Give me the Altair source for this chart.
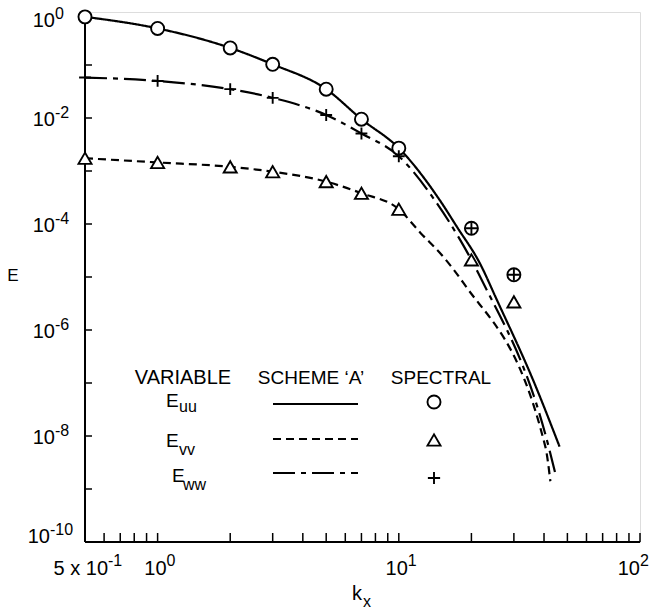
import altair as alt
import pandas as pd

# ---- spectral reference values (symbols) ----
k_spec = [0.5, 1, 2, 3, 5, 7, 10, 20, 30]
e_uu_spec = [0.81, 0.49, 0.21, 0.103, 0.035, 0.0095, 0.0027, 8.3e-5, 1.1e-5]
e_vv_spec = [0.00174, 0.00145, 0.0012, 0.00097, 0.00063, 0.00038, 0.00019, 2.1e-5, 3.4e-6]
e_ww_spec = [0.058, 0.050, 0.035, 0.024, 0.0114, 0.0051, 0.0019, 8.3e-5, 1.1e-5]

# ---- scheme 'A' curves ----
k_uu = [0.5, 1, 2, 3, 5, 7, 10, 14.8, 17.4, 21.7, 25.5, 36, 46.4]
e_uu = [0.81, 0.49, 0.21, 0.103, 0.035, 0.0095, 0.0027, 2.8e-4, 8.9e-5, 1.8e-5,
        3.7e-6, 1.15e-7, 6.3e-9]
k_ww = [0.5, 1, 2, 3, 5, 7, 10, 14.1, 22.1, 41.8, 44.5]
e_ww = [0.058, 0.050, 0.035, 0.024, 0.0114, 0.0051, 0.0019, 2.8e-4, 8.7e-6, 6.3e-9, 2.0e-9]
k_vv = [0.5, 1, 2, 3, 5, 7, 10, 12.3, 15.3, 18.5, 40.5, 42.5]
e_vv = [0.00174, 0.00145, 0.0012, 0.00097, 0.00063, 0.00038, 0.00019, 6.8e-5, 2.4e-5,
        7.8e-6, 6.3e-9, 1.4e-9]

# ---- axis ticks and labels ----
x_range = [0.5, 100]
y_range = [1e-10, 1]
x_ticks = [0.6, 0.7, 0.8, 0.9, 1, 2, 3, 4, 5, 6, 7, 8, 9,
           10, 20, 30, 40, 50, 60, 70, 80, 90, 100]
y_ticks = [1e-1, 1e-2, 1e-3, 1e-4, 1e-5, 1e-6, 1e-7, 1e-8, 1e-9]
x_label_vals = [0.5, 1, 10, 100]
x_label_base = ["5 x 10", "10", "10", "10"]
x_label_exp = ["-1", "0", "1", "2"]
y_label_vals = [1, 1e-2, 1e-4, 1e-6, 1e-8, 1e-10]
y_label_exp = ["0", "-2", "-4", "-6", "-8", "-10"]

W, H = 555, 530
FONT = "Liberation Sans"
INK = "black"

xs = alt.Scale(type="log", domain=x_range, nice=False)
ys = alt.Scale(type="log", domain=y_range, nice=False)
X = lambda f: alt.X(f, type="quantitative", scale=xs, axis=None)
Y = lambda f: alt.Y(f, type="quantitative", scale=ys, axis=None)
ONE = pd.DataFrame({"t": [0]})


def curve(k, e, dash):
    df = pd.DataFrame({"k": k, "e": e})
    return alt.Chart(df).mark_line(
        color=INK, strokeWidth=2.2, interpolate="monotone", strokeDash=dash, clip=False
    ).encode(x=X("k"), y=Y("e"))


def symbols(e, shape, size, fill):
    df = pd.DataFrame({"k": k_spec, "e": e})
    return alt.Chart(df).mark_point(
        shape=shape, size=size, filled=False, fill=fill, fillOpacity=1,
        stroke=INK, strokeWidth=1.9, opacity=1, clip=False
    ).encode(x=X("k"), y=Y("e"))


PLUS = "M-1,0L1,0M0,-1L0,1"
DASH_VV = [8, 5]
DASH_WW = [22, 6, 5, 6]

# axis lines along the left and bottom edges of the plot
frame = pd.DataFrame({"k0": [x_range[0]], "k1": [x_range[1]],
                      "e0": [y_range[0]], "e1": [y_range[1]]})
x_axis = alt.Chart(frame).mark_rule(color=INK, strokeWidth=2).encode(
    x=X("k0"), x2="k1", y=Y("e0"))
y_axis = alt.Chart(frame).mark_rule(color=INK, strokeWidth=2).encode(
    x=X("k0"), y=Y("e0"), y2="e1")

# inward tick marks
xtick = alt.Chart(pd.DataFrame({"k": x_ticks})).mark_rule(color=INK, strokeWidth=1.5).encode(
    x=X("k"), y=alt.value(H), y2=alt.value(H - 9))
ytick = alt.Chart(pd.DataFrame({"e": y_ticks})).mark_rule(color=INK, strokeWidth=1.5).encode(
    y=Y("e"), x=alt.value(0), x2=alt.value(7))

# x tick labels: base number plus raised exponent
xl = pd.DataFrame({"k": x_label_vals, "base": x_label_base, "exp": x_label_exp})


def xlab(cond, dx):
    src = alt.Chart(xl).transform_filter(cond)
    b = src.mark_text(font=FONT, fontSize=20, align="right", baseline="alphabetic",
                      dx=dx, color=INK).encode(x=X("k"), y=alt.value(H + 33), text="base:N")
    e = src.mark_text(font=FONT, fontSize=16, align="left", baseline="alphabetic",
                      dx=dx, color=INK).encode(x=X("k"), y=alt.value(H + 24), text="exp:N")
    return b + e


xlabels = (xlab("datum.k == 0.5", 23) + xlab("datum.k == 1 || datum.k == 10", 9)
           + xlab("datum.k == 100", 0))

# y tick labels
yl = pd.DataFrame({"e": y_label_vals, "exp": y_label_exp})


def ylab(cond, x_edge, dy):
    src = alt.Chart(yl).transform_filter(cond)
    b = src.mark_text(font=FONT, fontSize=20, align="right", baseline="alphabetic",
                      dy=dy, color=INK).encode(y=Y("e"), x=alt.value(x_edge), text=alt.value("10"))
    e = src.mark_text(font=FONT, fontSize=16, align="left", baseline="alphabetic",
                      dy=dy - 8, color=INK).encode(y=Y("e"), x=alt.value(x_edge), text="exp:N")
    return b + e


ylabels = (ylab("datum.e == 1", -30, 15) + ylab("datum.e < 0.5 && datum.e > 1e-9", -30, 8)
           + ylab("datum.e < 1e-9", -35, 1))


def txt(s, x, y, size=19, align="left", baseline="alphabetic"):
    return alt.Chart(pd.DataFrame({"t": [s]})).mark_text(
        font=FONT, fontSize=size, align=align, baseline=baseline, color=INK
    ).encode(x=alt.value(x), y=alt.value(y), text="t:N")


titles = (txt("E", -72, 264, size=17, align="center", baseline="middle")
          + txt("k", 267, H + 58, size=20) + txt("x", 278, H + 65, size=16))

# legend block
legend = (
    txt("VARIABLE", 98, 372, size=20, align="center")
    + txt("SCHEME \u2018A\u2019", 226, 372, align="center")
    + txt("SPECTRAL", 356, 372, align="center")
    + txt("E", 81, 395) + txt("uu", 94, 400, size=16)
    + txt("E", 81, 435) + txt("vv", 94, 443, size=16)
    + txt("E", 87, 470) + txt("ww", 98, 478, size=16)
)


def sample(y, dash):
    return alt.Chart(ONE).mark_rule(
        color=INK, strokeWidth=2.2, strokeDash=dash
    ).encode(x=alt.value(188), x2=alt.value(273), y=alt.value(y))


def legend_sym(y, shape, size):
    return alt.Chart(ONE).mark_point(
        shape=shape, size=size, filled=False, stroke=INK, strokeWidth=1.9, opacity=1
    ).encode(x=alt.value(349), y=alt.value(y))


legend = (legend + sample(392, [1, 0]) + sample(427, DASH_VV) + sample(461, DASH_WW)
          + legend_sym(390, "circle", 170) + legend_sym(428, "triangle-up", 170)
          + legend_sym(466, PLUS, 150))

chart = alt.layer(
    x_axis, y_axis, xtick, ytick,
    curve(k_uu, e_uu, [1, 0]), curve(k_vv, e_vv, DASH_VV), curve(k_ww, e_ww, DASH_WW),
    symbols(e_vv_spec, "triangle-up", 170, "white"),
    symbols(e_uu_spec, "circle", 170, "white"),
    symbols(e_ww_spec, PLUS, 140, "none"),
    xlabels, ylabels, titles, legend,
).properties(
    width=W, height=H,
    autosize=alt.AutoSizeParams(type="none"),
    padding={"left": 85, "top": 12, "right": 15, "bottom": 69},
).configure_view(stroke=None).configure(background="white")

chart.save("out.html", embed_options={"renderer": "svg", "actions": False})
